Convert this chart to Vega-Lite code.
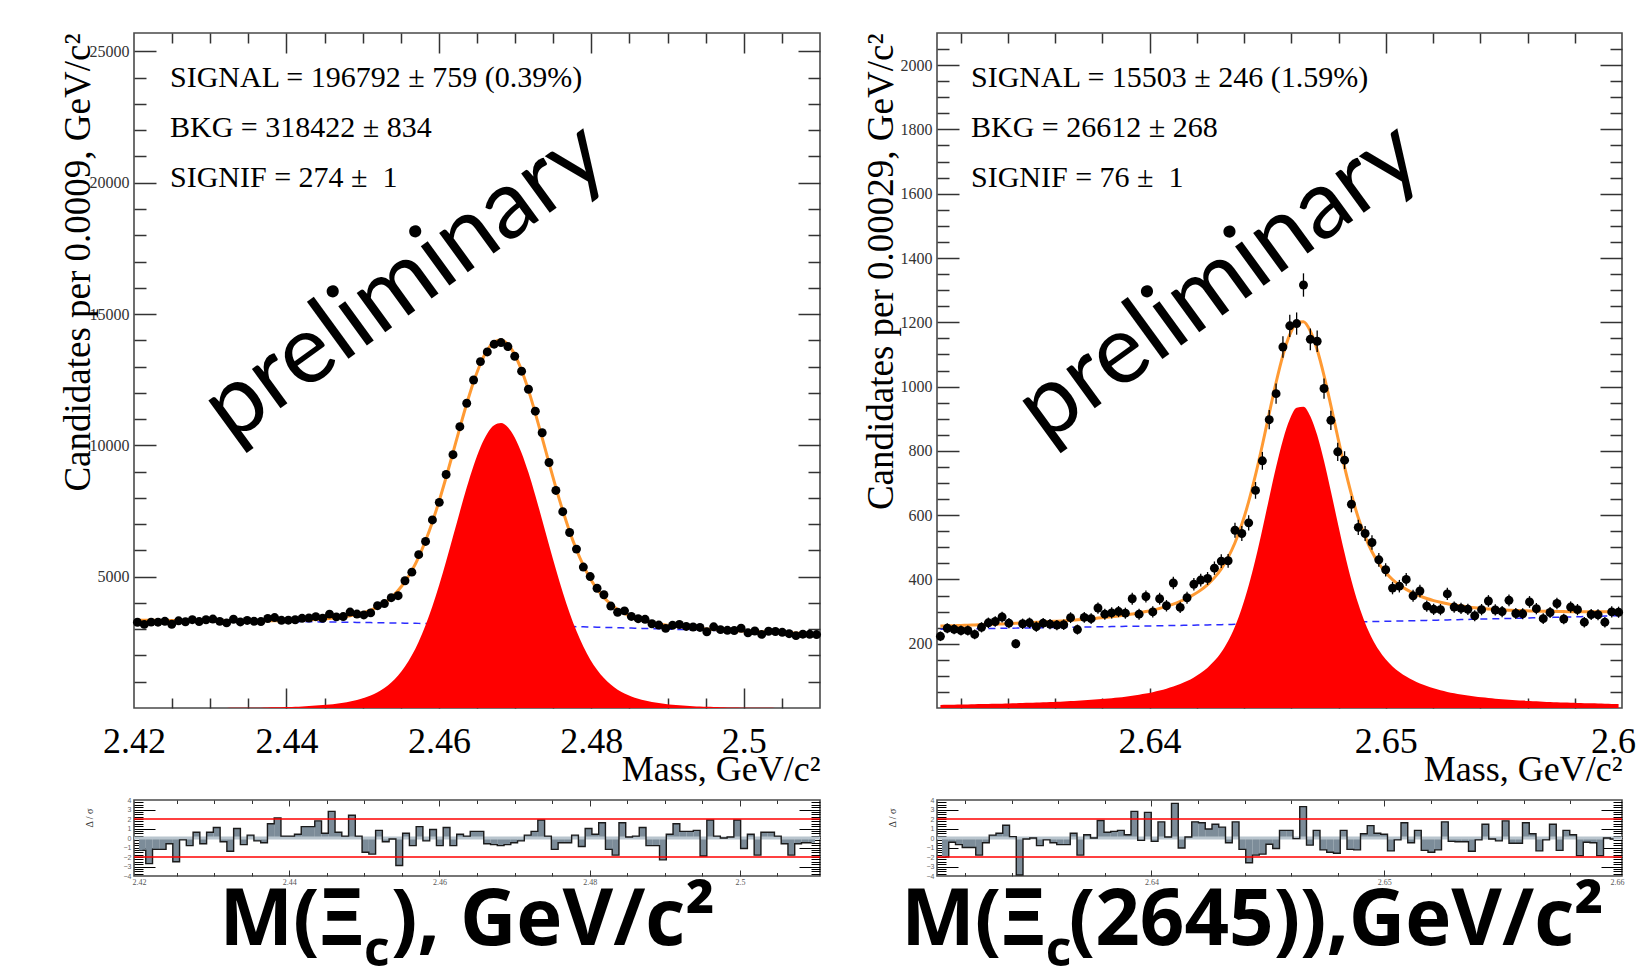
{
"$schema": "https://vega.github.io/schema/vega-lite/v6.json",
"padding": {"left": 58, "top": 31, "right": 0, "bottom": 0},
"background": "white",
"config": {"view": {"stroke": "#4a4a4a", "strokeWidth": 1.6}, "axis": {"grid": false, "labelFlush": false, "labelOverlap": false, "labelBound": false}},
"datasets": {
"L": [
{"m":2.42045,"n":3265,"f":3340,"s":1,"b":3339,"p":-1.3},{"m":2.42135,"n":3183,"f":3339,"s":1,"b":3338,"p":-2.7},{"m":2.42225,"n":3269,"f":3338,"s":1,"b":3337,"p":-1.2},{"m":2.42315,"n":3267,"f":3336,"s":1,"b":3335,"p":-1.2},{"m":2.42405,"n":3300,"f":3335,"s":1,"b":3334,"p":-0.6},
{"m":2.42495,"n":3189,"f":3333,"s":1,"b":3332,"p":-2.5},{"m":2.42585,"n":3320,"f":3332,"s":1,"b":3331,"p":-0.2},{"m":2.42675,"n":3284,"f":3330,"s":1,"b":3329,"p":-0.8},{"m":2.42765,"n":3363,"f":3328,"s":1,"b":3327,"p":0.6},{"m":2.42855,"n":3291,"f":3326,"s":1,"b":3325,"p":-0.6},
{"m":2.42945,"n":3360,"f":3325,"s":2,"b":3323,"p":0.6},{"m":2.43035,"n":3386,"f":3323,"s":2,"b":3321,"p":1.1},{"m":2.43125,"n":3299,"f":3322,"s":3,"b":3319,"p":-0.4},{"m":2.43215,"n":3240,"f":3321,"s":4,"b":3317,"p":-1.4},{"m":2.43305,"n":3378,"f":3320,"s":5,"b":3315,"p":1.0},
{"m":2.43395,"n":3278,"f":3318,"s":6,"b":3312,"p":-0.7},{"m":2.43485,"n":3335,"f":3318,"s":8,"b":3310,"p":0.3},{"m":2.43575,"n":3301,"f":3318,"s":11,"b":3307,"p":-0.3},{"m":2.43665,"n":3290,"f":3319,"s":14,"b":3305,"p":-0.5},{"m":2.43755,"n":3407,"f":3321,"s":19,"b":3302,"p":1.5},
{"m":2.43845,"n":3444,"f":3323,"s":24,"b":3299,"p":2.1},{"m":2.43935,"n":3338,"f":3326,"s":30,"b":3296,"p":0.2},{"m":2.44025,"n":3343,"f":3331,"s":38,"b":3293,"p":0.2},{"m":2.44115,"n":3361,"f":3338,"s":48,"b":3290,"p":0.4},{"m":2.44205,"n":3415,"f":3346,"s":59,"b":3287,"p":1.2},
{"m":2.44295,"n":3428,"f":3358,"s":74,"b":3284,"p":1.2},{"m":2.44385,"n":3477,"f":3372,"s":91,"b":3281,"p":1.8},{"m":2.44475,"n":3417,"f":3388,"s":111,"b":3277,"p":0.5},{"m":2.44565,"n":3574,"f":3410,"s":136,"b":3274,"p":2.8},{"m":2.44655,"n":3470,"f":3435,"s":165,"b":3270,"p":0.6},
{"m":2.44745,"n":3481,"f":3469,"s":202,"b":3267,"p":0.2},{"m":2.44835,"n":3653,"f":3511,"s":248,"b":3263,"p":2.4},{"m":2.44925,"n":3577,"f":3565,"s":306,"b":3259,"p":0.2},{"m":2.45015,"n":3544,"f":3634,"s":379,"b":3255,"p":-1.5},{"m":2.45105,"n":3621,"f":3725,"s":474,"b":3251,"p":-1.7},
{"m":2.45195,"n":3895,"f":3845,"s":598,"b":3247,"p":0.8},{"m":2.45285,"n":3976,"f":4001,"s":758,"b":3243,"p":-0.4},{"m":2.45375,"n":4200,"f":4206,"s":967,"b":3239,"p":-0.1},{"m":2.45465,"n":4277,"f":4471,"s":1236,"b":3235,"p":-2.9},{"m":2.45555,"n":4844,"f":4809,"s":1578,"b":3231,"p":0.5},
{"m":2.45645,"n":5173,"f":5231,"s":2005,"b":3226,"p":-0.8},{"m":2.45735,"n":5839,"f":5748,"s":2526,"b":3222,"p":1.2},{"m":2.45825,"n":6342,"f":6366,"s":3149,"b":3217,"p":-0.3},{"m":2.45915,"n":7161,"f":7085,"s":3873,"b":3212,"p":0.9},{"m":2.46005,"n":7829,"f":7900,"s":4692,"b":3208,"p":-0.8},
{"m":2.46095,"n":8890,"f":8787,"s":5584,"b":3203,"p":1.1},{"m":2.46185,"n":9644,"f":9723,"s":6525,"b":3198,"p":-0.8},{"m":2.46275,"n":10710,"f":10669,"s":7476,"b":3193,"p":0.4},{"m":2.46365,"n":11604,"f":11582,"s":8394,"b":3188,"p":0.2},{"m":2.46455,"n":12489,"f":12411,"s":9228,"b":3183,"p":0.7},
{"m":2.46545,"n":13188,"f":13108,"s":9930,"b":3178,"p":0.7},{"m":2.46635,"n":13556,"f":13626,"s":10454,"b":3172,"p":-0.6},{"m":2.46725,"n":13851,"f":13934,"s":10767,"b":3167,"p":-0.7},{"m":2.46815,"n":13913,"f":14008,"s":10847,"b":3161,"p":-0.8},{"m":2.46905,"n":13762,"f":13844,"s":10688,"b":3156,"p":-0.7},
{"m":2.46995,"n":13393,"f":13451,"s":10301,"b":3150,"p":-0.5},{"m":2.47085,"n":12824,"f":12858,"s":9713,"b":3145,"p":-0.3},{"m":2.47175,"n":12135,"f":12102,"s":8963,"b":3139,"p":0.3},{"m":2.47265,"n":11302,"f":11228,"s":8095,"b":3133,"p":0.7},{"m":2.47355,"n":10481,"f":10288,"s":7161,"b":3127,"p":1.9},
{"m":2.47445,"n":9347,"f":9328,"s":6207,"b":3121,"p":0.2},{"m":2.47535,"n":8284,"f":8394,"s":5279,"b":3115,"p":-1.2},{"m":2.47625,"n":7475,"f":7518,"s":4409,"b":3109,"p":-0.5},{"m":2.47715,"n":6682,"f":6723,"s":3621,"b":3102,"p":-0.5},{"m":2.47805,"n":6050,"f":6027,"s":2931,"b":3096,"p":0.3},
{"m":2.47895,"n":5366,"f":5432,"s":2342,"b":3090,"p":-0.9},{"m":2.47985,"n":5004,"f":4934,"s":1851,"b":3083,"p":1.0},{"m":2.48075,"n":4559,"f":4532,"s":1455,"b":3077,"p":0.4},{"m":2.48165,"n":4313,"f":4209,"s":1139,"b":3070,"p":1.6},{"m":2.48255,"n":3880,"f":3955,"s":892,"b":3063,"p":-1.2},
{"m":2.48345,"n":3645,"f":3755,"s":699,"b":3056,"p":-1.8},{"m":2.48435,"n":3698,"f":3602,"s":553,"b":3049,"p":1.6},{"m":2.48525,"n":3487,"f":3481,"s":439,"b":3042,"p":0.1},{"m":2.48615,"n":3400,"f":3388,"s":353,"b":3035,"p":0.2},{"m":2.48705,"n":3376,"f":3313,"s":285,"b":3028,"p":1.1},
{"m":2.48795,"n":3207,"f":3253,"s":232,"b":3021,"p":-0.8},{"m":2.48885,"n":3158,"f":3203,"s":189,"b":3014,"p":-0.8},{"m":2.48975,"n":3032,"f":3161,"s":155,"b":3006,"p":-2.3},{"m":2.49065,"n":3148,"f":3126,"s":127,"b":2999,"p":0.4},{"m":2.49155,"n":3178,"f":3095,"s":104,"b":2991,"p":1.5},
{"m":2.49245,"n":3106,"f":3067,"s":84,"b":2983,"p":0.7},{"m":2.49335,"n":3084,"f":3045,"s":69,"b":2976,"p":0.7},{"m":2.49425,"n":3067,"f":3023,"s":55,"b":2968,"p":0.8},{"m":2.49515,"n":2900,"f":3004,"s":44,"b":2960,"p":-1.9},{"m":2.49605,"n":3091,"f":2987,"s":35,"b":2952,"p":1.9},
{"m":2.49695,"n":2983,"f":2972,"s":28,"b":2944,"p":0.2},{"m":2.49785,"n":2958,"f":2958,"s":22,"b":2936,"p":0.0},{"m":2.49875,"n":2950,"f":2945,"s":17,"b":2928,"p":0.1},{"m":2.49965,"n":3035,"f":2932,"s":13,"b":2919,"p":1.9},{"m":2.50055,"n":2862,"f":2921,"s":10,"b":2911,"p":-1.1},
{"m":2.50145,"n":2932,"f":2910,"s":8,"b":2902,"p":0.4},{"m":2.50235,"n":2803,"f":2900,"s":6,"b":2894,"p":-1.8},{"m":2.50325,"n":2922,"f":2890,"s":5,"b":2885,"p":0.6},{"m":2.50415,"n":2913,"f":2881,"s":4,"b":2877,"p":0.6},{"m":2.50505,"n":2882,"f":2871,"s":3,"b":2868,"p":0.2},
{"m":2.50595,"n":2829,"f":2861,"s":2,"b":2859,"p":-0.6},{"m":2.50685,"n":2756,"f":2852,"s":2,"b":2850,"p":-1.8},{"m":2.50775,"n":2810,"f":2842,"s":1,"b":2841,"p":-0.6},{"m":2.50865,"n":2806,"f":2833,"s":1,"b":2832,"p":-0.5},{"m":2.50955,"n":2797,"f":2824,"s":1,"b":2823,"p":-0.5}
],
"R": [
{"m":2.631145,"n":223,"e":14.9,"f":254.8,"s":9.7,"b":245.1,"p":-2.0},{"m":2.631435,"n":248,"e":15.7,"f":255.4,"s":10.0,"b":245.4,"p":-0.45},{"m":2.631725,"n":245,"e":15.7,"f":256.1,"s":10.4,"b":245.7,"p":-0.7},{"m":2.632015,"n":241,"e":15.5,"f":256.8,"s":10.8,"b":246.0,"p":-1.0},{"m":2.632305,"n":241,"e":15.5,"f":257.5,"s":11.2,"b":246.3,"p":-1.0},
{"m":2.632595,"n":229,"e":15.1,"f":258.2,"s":11.6,"b":246.6,"p":-1.8},{"m":2.632885,"n":251,"e":15.8,"f":259.0,"s":12.1,"b":246.9,"p":-0.5},{"m":2.633175,"n":265,"e":16.3,"f":259.9,"s":12.6,"b":247.3,"p":0.3},{"m":2.633465,"n":269,"e":16.4,"f":260.7,"s":13.1,"b":247.6,"p":0.5},{"m":2.633755,"n":283,"e":16.8,"f":261.5,"s":13.6,"b":247.9,"p":1.35},
{"m":2.634045,"n":264,"e":16.2,"f":262.4,"s":14.2,"b":248.2,"p":0.15},{"m":2.634335,"n":200,"e":14.1,"f":263.4,"s":14.9,"b":248.5,"p":-3.9},{"m":2.634625,"n":262,"e":16.2,"f":264.3,"s":15.5,"b":248.8,"p":-0.1},{"m":2.634915,"n":265,"e":16.3,"f":265.4,"s":16.2,"b":249.2,"p":0.0},{"m":2.635205,"n":253,"e":15.9,"f":266.5,"s":17.0,"b":249.5,"p":-0.8},
{"m":2.635495,"n":264,"e":16.2,"f":267.6,"s":17.8,"b":249.8,"p":-0.2},{"m":2.635785,"n":261,"e":16.2,"f":268.8,"s":18.7,"b":250.1,"p":-0.5},{"m":2.636075,"n":258,"e":16.1,"f":270.1,"s":19.6,"b":250.5,"p":-0.7},{"m":2.636365,"n":259,"e":16.1,"f":271.4,"s":20.6,"b":250.8,"p":-0.7},{"m":2.636655,"n":281,"e":16.8,"f":272.8,"s":21.6,"b":251.2,"p":0.5},
{"m":2.636945,"n":244,"e":15.6,"f":274.3,"s":22.8,"b":251.5,"p":-1.8},{"m":2.637235,"n":282,"e":16.8,"f":275.9,"s":24.0,"b":251.9,"p":0.35},{"m":2.637525,"n":278,"e":16.7,"f":277.5,"s":25.3,"b":252.2,"p":0.0},{"m":2.637815,"n":311,"e":17.6,"f":279.7,"s":27.1,"b":252.6,"p":1.85},{"m":2.638105,"n":292,"e":17.1,"f":281.7,"s":28.8,"b":252.9,"p":0.6},
{"m":2.638395,"n":296,"e":17.2,"f":284.0,"s":30.7,"b":253.3,"p":0.7},{"m":2.638685,"n":300,"e":17.3,"f":286.5,"s":32.8,"b":253.7,"p":0.8},{"m":2.638975,"n":295,"e":17.2,"f":289.2,"s":35.2,"b":254.0,"p":0.35},{"m":2.639265,"n":340,"e":18.4,"f":292.5,"s":38.1,"b":254.4,"p":2.8},{"m":2.639555,"n":292,"e":17.1,"f":295.9,"s":41.2,"b":254.7,"p":-0.25},
{"m":2.639845,"n":347,"e":18.6,"f":300.0,"s":44.9,"b":255.1,"p":2.7},{"m":2.640135,"n":299,"e":17.3,"f":304.6,"s":49.1,"b":255.5,"p":-0.35},{"m":2.640425,"n":340,"e":18.4,"f":310.0,"s":54.1,"b":255.9,"p":1.7},{"m":2.640715,"n":318,"e":17.8,"f":316.2,"s":60.0,"b":256.2,"p":0.1},{"m":2.641005,"n":389,"e":19.7,"f":323.3,"s":66.7,"b":256.6,"p":3.65},
{"m":2.641295,"n":313,"e":17.7,"f":331.7,"s":74.7,"b":257.0,"p":-1.05},{"m":2.641585,"n":343,"e":18.5,"f":341.4,"s":84.0,"b":257.4,"p":0.1},{"m":2.641875,"n":385,"e":19.6,"f":353.0,"s":95.2,"b":257.8,"p":1.7},{"m":2.642165,"n":398,"e":19.9,"f":366.8,"s":108.7,"b":258.1,"p":1.6},{"m":2.642455,"n":403,"e":20.1,"f":384.0,"s":125.5,"b":258.5,"p":0.95},
{"m":2.642745,"n":435,"e":20.9,"f":405.6,"s":146.7,"b":258.9,"p":1.45},{"m":2.643035,"n":457,"e":21.4,"f":433.1,"s":173.8,"b":259.3,"p":1.15},{"m":2.643325,"n":458,"e":21.4,"f":468.5,"s":208.8,"b":259.7,"p":-0.5},{"m":2.643615,"n":553,"e":23.5,"f":514.0,"s":253.8,"b":260.2,"p":1.7},{"m":2.643905,"n":543,"e":23.3,"f":571.5,"s":310.9,"b":260.6,"p":-1.2},
{"m":2.644195,"n":576,"e":24.0,"f":641.8,"s":380.8,"b":261.0,"p":-2.6},{"m":2.644485,"n":677,"e":26.0,"f":725.0,"s":463.6,"b":261.4,"p":-1.8},{"m":2.644775,"n":769,"e":27.7,"f":818.3,"s":556.5,"b":261.8,"p":-1.7},{"m":2.645065,"n":897,"e":30.0,"f":916.7,"s":654.4,"b":262.3,"p":-0.65},{"m":2.645355,"n":978,"e":31.3,"f":1012.6,"s":749.9,"b":262.7,"p":-1.1},
{"m":2.645645,"n":1123,"e":33.5,"f":1097.2,"s":834.1,"b":263.1,"p":0.8},{"m":2.645935,"n":1189,"e":34.5,"f":1161.5,"s":898.0,"b":263.5,"p":0.8},{"m":2.646225,"n":1196,"e":34.6,"f":1197.8,"s":933.9,"b":263.9,"p":-0.07},{"m":2.646515,"n":1316,"e":36.3,"f":1201.8,"s":937.4,"b":264.4,"p":3.3},{"m":2.646805,"n":1147,"e":33.9,"f":1172.7,"s":907.9,"b":264.8,"p":-0.75},
{"m":2.647095,"n":1141,"e":33.8,"f":1114.5,"s":849.3,"b":265.2,"p":0.8},{"m":2.647385,"n":994,"e":31.5,"f":1034.2,"s":768.5,"b":265.7,"p":-1.25},{"m":2.647675,"n":895,"e":29.9,"f":940.7,"s":674.6,"b":266.1,"p":-1.5},{"m":2.647965,"n":797,"e":28.2,"f":843.2,"s":576.6,"b":266.6,"p":-1.6},{"m":2.648255,"n":771,"e":27.8,"f":749.2,"s":482.2,"b":267.0,"p":0.8},
{"m":2.648545,"n":634,"e":25.2,"f":664.5,"s":397.0,"b":267.5,"p":-1.2},{"m":2.648835,"n":562,"e":23.7,"f":592.1,"s":324.2,"b":267.9,"p":-1.25},{"m":2.649125,"n":543,"e":23.3,"f":533.1,"s":264.7,"b":268.4,"p":0.45},{"m":2.649415,"n":515,"e":22.7,"f":486.1,"s":217.3,"b":268.8,"p":1.3},{"m":2.649705,"n":461,"e":21.5,"f":449.6,"s":180.3,"b":269.3,"p":0.5},
{"m":2.649995,"n":430,"e":20.7,"f":421.6,"s":151.8,"b":269.8,"p":0.4},{"m":2.650285,"n":373,"e":19.3,"f":399.7,"s":129.5,"b":270.2,"p":-1.35},{"m":2.650575,"n":379,"e":19.5,"f":382.7,"s":112.0,"b":270.7,"p":-0.2},{"m":2.650865,"n":400,"e":20.0,"f":369.0,"s":97.8,"b":271.2,"p":1.6},{"m":2.651155,"n":349,"e":18.7,"f":357.8,"s":86.2,"b":271.6,"p":-0.5},
{"m":2.651445,"n":364,"e":19.1,"f":348.5,"s":76.4,"b":272.1,"p":0.8},{"m":2.651735,"n":317,"e":17.8,"f":340.8,"s":68.2,"b":272.6,"p":-1.3},{"m":2.652025,"n":307,"e":17.5,"f":334.2,"s":61.1,"b":273.1,"p":-1.5},{"m":2.652315,"n":306,"e":17.5,"f":328.8,"s":55.2,"b":273.6,"p":-1.25},{"m":2.652605,"n":355,"e":18.8,"f":324.2,"s":50.1,"b":274.1,"p":1.7},
{"m":2.652895,"n":314,"e":17.7,"f":320.3,"s":45.7,"b":274.6,"p":-0.35},{"m":2.653185,"n":310,"e":17.6,"f":317.0,"s":41.9,"b":275.1,"p":-0.4},{"m":2.653475,"n":307,"e":17.5,"f":314.3,"s":38.7,"b":275.6,"p":-0.4},{"m":2.653765,"n":287,"e":16.9,"f":311.9,"s":35.8,"b":276.1,"p":-1.4},{"m":2.654055,"n":306,"e":17.5,"f":309.9,"s":33.3,"b":276.6,"p":-0.2},
{"m":2.654345,"n":333,"e":18.2,"f":308.2,"s":31.1,"b":277.1,"p":1.45},{"m":2.654635,"n":305,"e":17.5,"f":306.7,"s":29.1,"b":277.6,"p":-0.1},{"m":2.654925,"n":300,"e":17.3,"f":305.5,"s":27.4,"b":278.1,"p":-0.3},{"m":2.655215,"n":335,"e":18.3,"f":304.4,"s":25.8,"b":278.6,"p":1.8},{"m":2.655505,"n":294,"e":17.1,"f":303.5,"s":24.4,"b":279.1,"p":-0.55},
{"m":2.655795,"n":293,"e":17.1,"f":302.7,"s":23.1,"b":279.6,"p":-0.55},{"m":2.656085,"n":330,"e":18.2,"f":302.0,"s":21.9,"b":280.1,"p":1.6},{"m":2.656375,"n":309,"e":17.6,"f":301.5,"s":20.8,"b":280.7,"p":0.45},{"m":2.656665,"n":278,"e":16.7,"f":301.0,"s":19.8,"b":281.2,"p":-1.35},{"m":2.656955,"n":297,"e":17.2,"f":300.5,"s":18.8,"b":281.7,"p":-0.2},
{"m":2.657245,"n":325,"e":18.0,"f":300.3,"s":18.0,"b":282.3,"p":1.45},{"m":2.657535,"n":277,"e":16.6,"f":299.9,"s":17.1,"b":282.8,"p":-1.3},{"m":2.657825,"n":314,"e":17.7,"f":299.7,"s":16.4,"b":283.3,"p":0.8},{"m":2.658115,"n":306,"e":17.5,"f":299.6,"s":15.7,"b":283.9,"p":0.35},{"m":2.658405,"n":267,"e":16.3,"f":299.4,"s":15.0,"b":284.4,"p":-1.85},
{"m":2.658695,"n":291,"e":17.1,"f":299.4,"s":14.4,"b":285.0,"p":-0.45},{"m":2.658985,"n":290,"e":17.0,"f":299.3,"s":13.8,"b":285.5,"p":-0.5},{"m":2.659275,"n":267,"e":16.3,"f":299.2,"s":13.2,"b":286.0,"p":-1.85},{"m":2.659565,"n":299,"e":17.3,"f":299.3,"s":12.7,"b":286.6,"p":0.0},{"m":2.659855,"n":298,"e":17.3,"f":299.4,"s":12.2,"b":287.2,"p":-0.1}
]
},
"columns": 2,
"spacing": {"row": 92, "column": 117},
"bounds": "flush",
"resolve": {"scale": {"x": "independent", "y": "independent"}},
"concat": [
{
"width": 686, "height": 675,
"data": {"name": "L"},
"resolve": {"axis": {"x": "independent", "y": "independent"}},
"layer": [
{"mark": {"type": "line", "stroke": "#2b2bff", "strokeWidth": 1.5, "strokeDash": [7, 5], "interpolate": "monotone"},
 "encoding": {
  "x": {"field": "m", "type": "quantitative", "scale": {"domain": [2.42, 2.51], "nice": false, "zero": false},
   "axis": {"orient": "bottom", "values": [2.425,2.43,2.435,2.44,2.445,2.45,2.455,2.46,2.465,2.47,2.475,2.48,2.485,2.49,2.495,2.5,2.505], "labels": false, "domain": false, "title": null, "tickColor": "#333", "tickWidth": 1.5, "tickSize": {"condition": {"test": "abs(datum.value*50-round(datum.value*50))<0.01", "value": -20}, "value": -10}}},
  "y": {"field": "b", "type": "quantitative", "scale": {"domain": [0, 25700], "nice": false, "zero": false},
   "axis": {"orient": "left", "values": [1000,2000,3000,4000,5000,6000,7000,8000,9000,10000,11000,12000,13000,14000,15000,16000,17000,18000,19000,20000,21000,22000,23000,24000,25000], "labels": false, "domain": false, "title": null, "tickColor": "#333", "tickWidth": 1.5, "tickSize": {"condition": {"test": "datum.value % 5000 == 0", "value": -22}, "value": -12}}}}},
{"mark": {"type": "area", "color": "#ff0000", "interpolate": "monotone"},
 "encoding": {
  "x": {"field": "m", "type": "quantitative",
   "axis": {"orient": "bottom", "values": [2.42,2.44,2.46,2.48,2.5], "format": "~g", "ticks": false, "domain": false, "labelFont": "Liberation Serif", "labelFontSize": 36, "labelColor": "#000", "labelPadding": 44, "labelBaseline": "alphabetic", "title": "Mass, GeV/c²", "titleFont": "Liberation Serif", "titleFontSize": 36, "titleFontWeight": "normal", "titleColor": "#000", "titleAlign": "right", "titleBaseline": "alphabetic", "titleX": 686, "titleY": 72}},
  "y": {"field": "s", "type": "quantitative",
   "axis": {"orient": "left", "values": [5000,10000,15000,20000,25000], "format": "d", "ticks": false, "domain": false, "labelFont": "Liberation Serif", "labelFontSize": 16, "labelColor": "#333", "labelPadding": 5, "title": "Candidates per 0.0009, GeV/c²", "titleFont": "Liberation Serif", "titleFontSize": 37, "titleFontWeight": "normal", "titleColor": "#000", "titleAngle": -90, "titleAlign": "right", "titleBaseline": "alphabetic", "titleX": -45, "titleY": 0}}}},
{"mark": {"type": "line", "stroke": "#ff9a33", "strokeWidth": 3, "interpolate": "monotone"},
 "encoding": {
  "x": {"field": "m", "type": "quantitative",
   "axis": {"orient": "top", "values": [2.425,2.43,2.435,2.44,2.445,2.45,2.455,2.46,2.465,2.47,2.475,2.48,2.485,2.49,2.495,2.5,2.505], "labels": false, "domain": false, "title": null, "tickColor": "#333", "tickWidth": 1.5, "tickSize": {"condition": {"test": "abs(datum.value*50-round(datum.value*50))<0.01", "value": -20}, "value": -10}}},
  "y": {"field": "f", "type": "quantitative",
   "axis": {"orient": "right", "values": [1000,2000,3000,4000,5000,6000,7000,8000,9000,10000,11000,12000,13000,14000,15000,16000,17000,18000,19000,20000,21000,22000,23000,24000,25000], "labels": false, "domain": false, "title": null, "tickColor": "#333", "tickWidth": 1.5, "tickSize": {"condition": {"test": "datum.value % 5000 == 0", "value": -22}, "value": -12}}}}},
{"mark": {"type": "circle", "color": "#000", "size": 80, "opacity": 1},
 "encoding": {"x": {"field": "m", "type": "quantitative", "axis": null}, "y": {"field": "n", "type": "quantitative", "axis": null}}},
{"data": {"values": [{}]},
 "mark": {"type": "text", "text": ["SIGNAL = 196792 ± 759 (0.39%)", "BKG = 318422 ± 834", "SIGNIF = 274 ± \u00a01"], "font": "Liberation Serif", "fontSize": 30, "lineHeight": 50, "align": "left", "baseline": "alphabetic", "color": "#000"},
 "encoding": {"x": {"datum": 2.42472, "axis": null}, "y": {"datum": 23644, "axis": null}}},
{"data": {"values": [{}]},
 "mark": {"type": "text", "text": "preliminary", "font": "Lato", "fontSize": 96, "angle": -36, "align": "center", "baseline": "middle", "color": "#000"},
 "encoding": {"x": {"datum": 2.45555, "axis": null}, "y": {"datum": 16220, "axis": null}}}
]
},
{
"width": 685, "height": 675,
"data": {"name": "R"},
"resolve": {"axis": {"x": "independent", "y": "independent"}},
"layer": [
{"mark": {"type": "line", "stroke": "#2b2bff", "strokeWidth": 1.5, "strokeDash": [7, 5], "interpolate": "monotone"},
 "encoding": {
  "x": {"field": "m", "type": "quantitative", "scale": {"domain": [2.631, 2.66], "nice": false, "zero": false},
   "axis": {"orient": "bottom", "values": [2.632,2.634,2.636,2.638,2.64,2.642,2.644,2.646,2.648,2.65,2.652,2.654,2.656,2.658], "labels": false, "domain": false, "title": null, "tickColor": "#333", "tickWidth": 1.5, "tickSize": {"condition": {"test": "abs(datum.value*100-round(datum.value*100))<0.01", "value": -20}, "value": -10}}},
  "y": {"field": "b", "type": "quantitative", "scale": {"domain": [0, 2100], "nice": false, "zero": false},
   "axis": {"orient": "left", "values": [50,100,150,200,250,300,350,400,450,500,550,600,650,700,750,800,850,900,950,1000,1050,1100,1150,1200,1250,1300,1350,1400,1450,1500,1550,1600,1650,1700,1750,1800,1850,1900,1950,2000,2050], "labels": false, "domain": false, "title": null, "tickColor": "#333", "tickWidth": 1.5, "tickSize": {"condition": {"test": "datum.value % 200 == 0", "value": -22}, "value": -12}}}}},
{"mark": {"type": "area", "color": "#ff0000", "interpolate": "monotone"},
 "encoding": {
  "x": {"field": "m", "type": "quantitative",
   "axis": {"orient": "bottom", "values": [2.64,2.65,2.66], "format": "~g", "ticks": false, "domain": false, "labelFont": "Liberation Serif", "labelFontSize": 36, "labelColor": "#000", "labelPadding": 44, "labelBaseline": "alphabetic", "title": "Mass, GeV/c²", "titleFont": "Liberation Serif", "titleFontSize": 36, "titleFontWeight": "normal", "titleColor": "#000", "titleAlign": "right", "titleBaseline": "alphabetic", "titleX": 685, "titleY": 72}},
  "y": {"field": "s", "type": "quantitative",
   "axis": {"orient": "left", "values": [200,400,600,800,1000,1200,1400,1600,1800,2000], "format": "d", "ticks": false, "domain": false, "labelFont": "Liberation Serif", "labelFontSize": 16, "labelColor": "#333", "labelPadding": 5, "title": "Candidates per 0.00029, GeV/c²", "titleFont": "Liberation Serif", "titleFontSize": 37, "titleFontWeight": "normal", "titleColor": "#000", "titleAngle": -90, "titleAlign": "right", "titleBaseline": "alphabetic", "titleX": -45, "titleY": 0}}}},
{"mark": {"type": "line", "stroke": "#ff9a33", "strokeWidth": 3, "interpolate": "monotone"},
 "encoding": {
  "x": {"field": "m", "type": "quantitative",
   "axis": {"orient": "top", "values": [2.632,2.634,2.636,2.638,2.64,2.642,2.644,2.646,2.648,2.65,2.652,2.654,2.656,2.658], "labels": false, "domain": false, "title": null, "tickColor": "#333", "tickWidth": 1.5, "tickSize": {"condition": {"test": "abs(datum.value*100-round(datum.value*100))<0.01", "value": -20}, "value": -10}}},
  "y": {"field": "f", "type": "quantitative",
   "axis": {"orient": "right", "values": [50,100,150,200,250,300,350,400,450,500,550,600,650,700,750,800,850,900,950,1000,1050,1100,1150,1200,1250,1300,1350,1400,1450,1500,1550,1600,1650,1700,1750,1800,1850,1900,1950,2000,2050], "labels": false, "domain": false, "title": null, "tickColor": "#333", "tickWidth": 1.5, "tickSize": {"condition": {"test": "datum.value % 200 == 0", "value": -22}, "value": -12}}}}},
{"mark": {"type": "errorbar", "ticks": false, "color": "#000", "thickness": 1.3},
 "encoding": {"x": {"field": "m", "type": "quantitative", "axis": null}, "y": {"field": "n", "type": "quantitative", "axis": null}, "yError": {"field": "e"}}},
{"mark": {"type": "circle", "color": "#000", "size": 80, "opacity": 1},
 "encoding": {"x": {"field": "m", "type": "quantitative", "axis": null}, "y": {"field": "n", "type": "quantitative", "axis": null}}},
{"data": {"values": [{}]},
 "mark": {"type": "text", "text": ["SIGNAL = 15503 ± 246 (1.59%)", "BKG = 26612 ± 268", "SIGNIF = 76 ± \u00a01"], "font": "Liberation Serif", "fontSize": 30, "lineHeight": 50, "align": "left", "baseline": "alphabetic", "color": "#000"},
 "encoding": {"x": {"datum": 2.63244, "axis": null}, "y": {"datum": 1932, "axis": null}}},
{"data": {"values": [{}]},
 "mark": {"type": "text", "text": "preliminary", "font": "Lato", "fontSize": 96, "angle": -36, "align": "center", "baseline": "middle", "color": "#000"},
 "encoding": {"x": {"datum": 2.64294, "axis": null}, "y": {"datum": 1325, "axis": null}}}
]
},
{
"width": 686, "height": 76,
"data": {"name": "L"},
"resolve": {"axis": {"x": "independent", "y": "independent"}},
"layer": [
{"mark": {"type": "bar", "width": 6.86, "color": "#7c8c99"},
 "encoding": {
  "x": {"field": "m", "type": "quantitative", "scale": {"domain": [2.42, 2.51], "nice": false, "zero": false},
   "axis": {"orient": "bottom", "values": [2.42,2.44,2.46,2.48,2.5], "format": "~g", "ticks": false, "domain": false, "labelFont": "Liberation Serif", "labelFontSize": 8, "labelColor": "#555", "labelPadding": 2, "title": null}},
  "y": {"field": "p", "type": "quantitative", "scale": {"domain": [-4, 4], "nice": false, "zero": false},
   "axis": {"orient": "left", "values": [-4,-3,-2,-1,0,1,2,3,4], "format": "d", "ticks": false, "domain": false, "labelFont": "Liberation Sans", "labelFontSize": 7, "labelColor": "#666", "labelPadding": 3, "title": "Δ / σ", "titleFont": "Liberation Serif", "titleFontSize": 10, "titleFontWeight": "normal", "titleColor": "#333", "titleAngle": -90, "titleAlign": "right", "titleBaseline": "alphabetic", "titleX": -42, "titleY": 8}},
  "y2": {"datum": 0}}},
{"data": {"values": [{}]}, "mark": {"type": "rule", "color": "#b9c5ce", "strokeWidth": 3}, "encoding": {"y": {"datum": 0, "axis": null}}},
{"mark": {"type": "line", "interpolate": "step", "color": "#1a1a1a", "strokeWidth": 1.4},
 "encoding": {
  "x": {"field": "m", "type": "quantitative",
   "axis": {"orient": "bottom", "values": [2.425,2.43,2.435,2.44,2.445,2.45,2.455,2.46,2.465,2.47,2.475,2.48,2.485,2.49,2.495,2.5,2.505], "labels": false, "domain": false, "title": null, "tickColor": "#333", "tickWidth": 1, "tickSize": {"condition": {"test": "abs(datum.value*50-round(datum.value*50))<0.01", "value": -6}, "value": -3.5}}},
  "y": {"field": "p", "type": "quantitative",
   "axis": {"orient": "left", "values": [-3.75,-3.5,-3.25,-3,-2.75,-2.5,-2.25,-2,-1.75,-1.5,-1.25,-1,-0.75,-0.5,-0.25,0,0.25,0.5,0.75,1,1.25,1.5,1.75,2,2.25,2.5,2.75,3,3.25,3.5,3.75], "labels": false, "domain": false, "title": null, "tickColor": "#000", "tickWidth": 1, "tickSize": {"condition": {"test": "abs(datum.value)==1 || abs(datum.value)==3", "value": -21}, "value": -9}}}}},
{"mark": {"type": "point", "opacity": 0},
 "encoding": {
  "x": {"field": "m", "type": "quantitative",
   "axis": {"orient": "top", "values": [2.425,2.43,2.435,2.44,2.445,2.45,2.455,2.46,2.465,2.47,2.475,2.48,2.485,2.49,2.495,2.5,2.505], "labels": false, "domain": false, "title": null, "tickColor": "#333", "tickWidth": 1, "tickSize": {"condition": {"test": "abs(datum.value*50-round(datum.value*50))<0.01", "value": -6}, "value": -3.5}}},
  "y": {"field": "p", "type": "quantitative",
   "axis": {"orient": "right", "values": [-3.75,-3.5,-3.25,-3,-2.75,-2.5,-2.25,-2,-1.75,-1.5,-1.25,-1,-0.75,-0.5,-0.25,0,0.25,0.5,0.75,1,1.25,1.5,1.75,2,2.25,2.5,2.75,3,3.25,3.5,3.75], "labels": false, "domain": false, "title": null, "tickColor": "#000", "tickWidth": 1, "tickSize": {"condition": {"test": "abs(datum.value)==1 || abs(datum.value)==3", "value": -21}, "value": -9}}}}},
{"data": {"values": [{"v": 2}, {"v": -2}]}, "mark": {"type": "rule", "color": "#ff0000", "strokeWidth": 1.5}, "encoding": {"y": {"field": "v", "type": "quantitative", "axis": null}}},
{"data": {"values": [{}]}, "mark": {"type": "text", "text": "M(Ξ", "font": "Open Sans", "fontWeight": "bold", "fontSize": 78, "align": "right", "baseline": "alphabetic", "color": "#000"},
 "encoding": {"x": {"datum": 2.44995, "axis": null}, "y": {"datum": -11.3, "axis": null}}},
{"data": {"values": [{}]}, "mark": {"type": "text", "text": "c", "font": "Open Sans", "fontWeight": "bold", "fontSize": 50, "align": "left", "baseline": "alphabetic", "dy": 21, "color": "#000"},
 "encoding": {"x": {"datum": 2.44995, "axis": null}, "y": {"datum": -11.3, "axis": null}}},
{"data": {"values": [{}]}, "mark": {"type": "text", "text": "), GeV/c²", "font": "Open Sans", "fontWeight": "bold", "fontSize": 78, "align": "left", "baseline": "alphabetic", "dx": 27, "color": "#000"},
 "encoding": {"x": {"datum": 2.44995, "axis": null}, "y": {"datum": -11.3, "axis": null}}}
]
},
{
"width": 685, "height": 76,
"data": {"name": "R"},
"resolve": {"axis": {"x": "independent", "y": "independent"}},
"layer": [
{"mark": {"type": "bar", "width": 6.85, "color": "#7c8c99"},
 "encoding": {
  "x": {"field": "m", "type": "quantitative", "scale": {"domain": [2.631, 2.66], "nice": false, "zero": false},
   "axis": {"orient": "bottom", "values": [2.64,2.65,2.66], "format": "~g", "ticks": false, "domain": false, "labelFont": "Liberation Serif", "labelFontSize": 8, "labelColor": "#555", "labelPadding": 2, "title": null}},
  "y": {"field": "p", "type": "quantitative", "scale": {"domain": [-4, 4], "nice": false, "zero": false},
   "axis": {"orient": "left", "values": [-4,-3,-2,-1,0,1,2,3,4], "format": "d", "ticks": false, "domain": false, "labelFont": "Liberation Sans", "labelFontSize": 7, "labelColor": "#666", "labelPadding": 3, "title": "Δ / σ", "titleFont": "Liberation Serif", "titleFontSize": 10, "titleFontWeight": "normal", "titleColor": "#333", "titleAngle": -90, "titleAlign": "right", "titleBaseline": "alphabetic", "titleX": -42, "titleY": 8}},
  "y2": {"datum": 0}}},
{"data": {"values": [{}]}, "mark": {"type": "rule", "color": "#b9c5ce", "strokeWidth": 3}, "encoding": {"y": {"datum": 0, "axis": null}}},
{"mark": {"type": "line", "interpolate": "step", "color": "#1a1a1a", "strokeWidth": 1.4},
 "encoding": {
  "x": {"field": "m", "type": "quantitative",
   "axis": {"orient": "bottom", "values": [2.632,2.634,2.636,2.638,2.64,2.642,2.644,2.646,2.648,2.65,2.652,2.654,2.656,2.658], "labels": false, "domain": false, "title": null, "tickColor": "#333", "tickWidth": 1, "tickSize": {"condition": {"test": "abs(datum.value*100-round(datum.value*100))<0.01", "value": -6}, "value": -3.5}}},
  "y": {"field": "p", "type": "quantitative",
   "axis": {"orient": "left", "values": [-3.75,-3.5,-3.25,-3,-2.75,-2.5,-2.25,-2,-1.75,-1.5,-1.25,-1,-0.75,-0.5,-0.25,0,0.25,0.5,0.75,1,1.25,1.5,1.75,2,2.25,2.5,2.75,3,3.25,3.5,3.75], "labels": false, "domain": false, "title": null, "tickColor": "#000", "tickWidth": 1, "tickSize": {"condition": {"test": "abs(datum.value)==1 || abs(datum.value)==3", "value": -21}, "value": -9}}}}},
{"mark": {"type": "point", "opacity": 0},
 "encoding": {
  "x": {"field": "m", "type": "quantitative",
   "axis": {"orient": "top", "values": [2.632,2.634,2.636,2.638,2.64,2.642,2.644,2.646,2.648,2.65,2.652,2.654,2.656,2.658], "labels": false, "domain": false, "title": null, "tickColor": "#333", "tickWidth": 1, "tickSize": {"condition": {"test": "abs(datum.value*100-round(datum.value*100))<0.01", "value": -6}, "value": -3.5}}},
  "y": {"field": "p", "type": "quantitative",
   "axis": {"orient": "right", "values": [-3.75,-3.5,-3.25,-3,-2.75,-2.5,-2.25,-2,-1.75,-1.5,-1.25,-1,-0.75,-0.5,-0.25,0,0.25,0.5,0.75,1,1.25,1.5,1.75,2,2.25,2.5,2.75,3,3.25,3.5,3.75], "labels": false, "domain": false, "title": null, "tickColor": "#000", "tickWidth": 1, "tickSize": {"condition": {"test": "abs(datum.value)==1 || abs(datum.value)==3", "value": -21}, "value": -9}}}}},
{"data": {"values": [{"v": 2}, {"v": -2}]}, "mark": {"type": "rule", "color": "#ff0000", "strokeWidth": 1.5}, "encoding": {"y": {"field": "v", "type": "quantitative", "axis": null}}},
{"data": {"values": [{}]}, "mark": {"type": "text", "text": "M(Ξ", "font": "Open Sans", "fontWeight": "bold", "fontSize": 78, "align": "right", "baseline": "alphabetic", "color": "#000"},
 "encoding": {"x": {"datum": 2.63546, "axis": null}, "y": {"datum": -11.3, "axis": null}}},
{"data": {"values": [{}]}, "mark": {"type": "text", "text": "c", "font": "Open Sans", "fontWeight": "bold", "fontSize": 50, "align": "left", "baseline": "alphabetic", "dy": 21, "color": "#000"},
 "encoding": {"x": {"datum": 2.63546, "axis": null}, "y": {"datum": -11.3, "axis": null}}},
{"data": {"values": [{}]}, "mark": {"type": "text", "text": "(2645)),GeV/c²", "font": "Open Sans", "fontWeight": "bold", "fontSize": 78, "align": "left", "baseline": "alphabetic", "dx": 23, "color": "#000"},
 "encoding": {"x": {"datum": 2.63546, "axis": null}, "y": {"datum": -11.3, "axis": null}}}
]
}
]
}
